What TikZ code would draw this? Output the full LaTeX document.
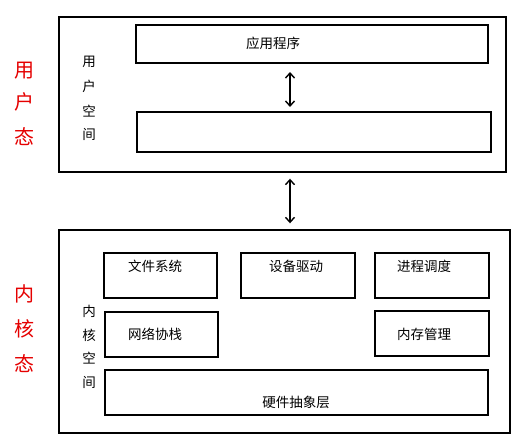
\documentclass[tikz,border=0pt]{standalone}
\usepackage{fontspec}
\newfontfamily\cjk{Noto Sans CJK SC}
\usetikzlibrary{arrows.meta}
\begin{document}
\begin{tikzpicture}[x=1pt,y=-1pt,
  box/.style={draw=black,line width=1.4pt,rectangle,inner sep=0pt},
  txt/.style={font=\cjk\fontsize{13.5}{15}\selectfont,inner sep=0pt},
  red/.style={font=\cjk\fontsize{20}{22}\selectfont,text=red!90!black,inner sep=0pt},
  dbl/.style={{Straight Barb[length=5pt,width=9pt]}-{Straight Barb[length=5pt,width=9pt]},line width=1.4pt}]
\useasboundingbox (0,0) rectangle (519,445);
% user space
\node[box,minimum width=447pt,minimum height=155pt] (user) at (282.5,94.5) {};
\node[box,minimum width=352pt,minimum height=38pt] (app) at (312,44) {};
\node[txt] (appt) at (273,43) {应用程序};
\node[box,minimum width=354pt,minimum height=40pt] (lib) at (314,132) {};
\draw[dbl] (290,72) coordinate (a1) -- (290,107) coordinate (a2);
\node[txt] (u1) at (89,62) {用};
\node[txt] (u2) at (89,86) {户};
\node[txt] (u3) at (89,111) {空};
\node[txt] (u4) at (89,134) {间};
\node[red] (r1) at (24,71) {用};
\node[red] (r2) at (24,102) {户};
\node[red] (r3) at (24,137) {态};
% kernel space
\node[box,minimum width=451pt,minimum height=203pt] (kern) at (284.5,331.5) {};
\draw[dbl] ([yshift=-6pt]user.south -| a1) -- ([yshift=6pt]kern.north -| a1);
\node[box,minimum width=113pt,minimum height=45pt] (fs) at (160.5,275.5) {};
\node[txt] (fst) at (155,266) {文件系统};
\node[box,minimum width=114pt,minimum height=45pt] (dev) at (298,275.5) {};
\node[txt] (devt) at (296,266) {设备驱动};
\node[box,minimum width=114pt,minimum height=45pt] (sch) at (432,275.5) {};
\node[txt] (scht) at (424,266) {进程调度};
\node[box,minimum width=113pt,minimum height=45pt] (net) at (161.5,334.5) {};
\node[txt] (nett) at (155,334) {网络协栈};
\node[box,minimum width=114pt,minimum height=45pt] (mem) at (432,333.5) {};
\node[txt] (memt) at (424,334) {内存管理};
\node[box,minimum width=383pt,minimum height=45pt] (hal) at (296.5,392.5) {};
\node[txt] (halt) at (296,402) {硬件抽象层};
\node[txt] (k1) at (89,311) {内};
\node[txt] (k2) at (89,335) {核};
\node[txt] (k3) at (89,358) {空};
\node[txt] (k4) at (89,382) {间};
\node[red] (r4) at (24,294) {内};
\node[red] (r5) at (24,329) {核};
\node[red] (r6) at (24,364) {态};
\end{tikzpicture}
\end{document}
